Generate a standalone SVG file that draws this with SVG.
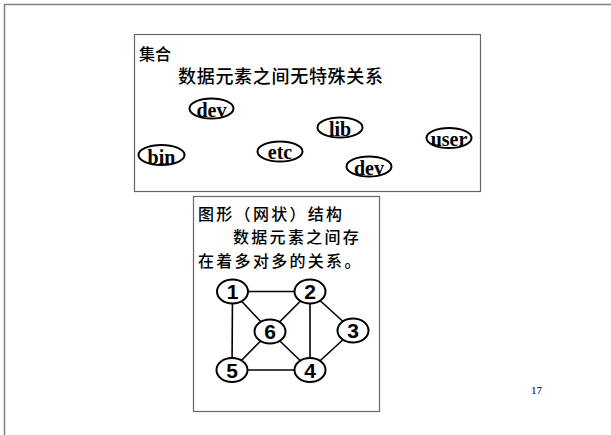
<svg xmlns="http://www.w3.org/2000/svg" width="611" height="435" viewBox="0 0 611 435">
<style>
.frame{fill:none;stroke:#808080;stroke-width:1.5}
.box{fill:#fff;stroke:#666;stroke-width:1.2}
.cjk{font-family:"Noto Sans CJK SC",sans-serif;font-weight:500;fill:#000}
.ell{fill:none;stroke:#000;stroke-width:2}
.et{font-family:"Liberation Serif",serif;font-weight:bold;font-size:20px;text-anchor:middle;fill:#000}
.node{fill:#fff;stroke:#000;stroke-width:2}
.nt{font-family:"Liberation Sans",sans-serif;font-weight:bold;font-size:21px;text-anchor:middle;fill:#000}
.edge{stroke:#000;stroke-width:1.6}
</style>
<rect width="611" height="435" fill="#fff"/>
<path class="frame" d="M4.5 435 V4.5 H611"/>
<g id="set-box">
<rect class="box" x="134.5" y="34.5" width="346" height="157"/>
<text class="cjk" x="139" y="60" font-size="16">集合</text>
<text class="cjk" x="178" y="83" font-size="18" letter-spacing="0.7">数据元素之间无特殊关系</text>
</g>
<g id="dev1"><ellipse class="ell" cx="211.5" cy="108.5" rx="22" ry="10"/><text class="et" x="211.5" y="117">dev</text></g>
<g id="lib"><ellipse class="ell" cx="340" cy="127.5" rx="22.5" ry="10"/><text class="et" x="340" y="136">lib</text></g>
<g id="user"><ellipse class="ell" cx="449" cy="138" rx="22.5" ry="10"/><text class="et" x="449" y="146">user</text></g>
<g id="bin"><ellipse class="ell" cx="161.5" cy="155" rx="23" ry="10"/><text class="et" x="161.5" y="164">bin</text></g>
<g id="etc"><ellipse class="ell" cx="280" cy="151.5" rx="22.5" ry="10"/><text class="et" x="280" y="159">etc</text></g>
<g id="dev2"><ellipse class="ell" cx="369" cy="166.5" rx="22.5" ry="10"/><text class="et" x="369" y="175">dev</text></g>
<g id="graph-box">
<rect class="box" x="193.5" y="196.5" width="186" height="215"/>
<text class="cjk" font-size="16" letter-spacing="2.3"><tspan x="198" y="219.5">图形（网状）结构</tspan><tspan x="233" y="243">数据元素之间存</tspan><tspan x="198" y="266.5">在着多对多的关系。</tspan></text>
</g>
<g id="edges">
<line class="edge" x1="232.5" y1="291.5" x2="310" y2="291.5"/>
<line class="edge" x1="232.5" y1="291.5" x2="232" y2="370"/>
<line class="edge" x1="232.5" y1="291.5" x2="270" y2="331.5"/>
<line class="edge" x1="310" y1="291.5" x2="270" y2="331.5"/>
<line class="edge" x1="310" y1="291.5" x2="310" y2="370"/>
<line class="edge" x1="310" y1="291.5" x2="353" y2="330.5"/>
<line class="edge" x1="353" y1="330.5" x2="310" y2="370"/>
<line class="edge" x1="232" y1="370" x2="270" y2="331.5"/>
<line class="edge" x1="270" y1="331.5" x2="310" y2="370"/>
<line class="edge" x1="232" y1="370" x2="310" y2="370"/>
</g>
<g id="n1"><ellipse class="node" cx="232.5" cy="291.5" rx="15.5" ry="12"/><text class="nt" x="232.5" y="299">1</text></g>
<g id="n2"><ellipse class="node" cx="310" cy="291.5" rx="15.5" ry="12"/><text class="nt" x="310" y="299">2</text></g>
<g id="n6"><ellipse class="node" cx="270" cy="331.5" rx="15.5" ry="12"/><text class="nt" x="270" y="339">6</text></g>
<g id="n3"><ellipse class="node" cx="353" cy="330.5" rx="15.5" ry="12"/><text class="nt" x="353" y="338">3</text></g>
<g id="n5"><ellipse class="node" cx="232" cy="370" rx="15.5" ry="12"/><text class="nt" x="232" y="377.5">5</text></g>
<g id="n4"><ellipse class="node" cx="310" cy="370" rx="15.5" ry="12"/><text class="nt" x="310" y="377.5">4</text></g>
<text x="531" y="394" font-family="Liberation Serif,serif" font-size="11" fill="#000">17</text>
</svg>
